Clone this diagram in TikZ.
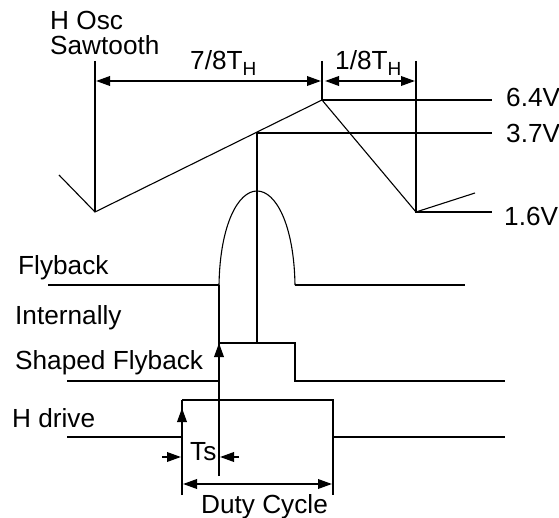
\documentclass[tikz,border=0pt]{standalone}
\usepackage{fontspec}
\setmainfont{Liberation Sans}
\usetikzlibrary{arrows.meta}
\newcommand{\subH}{\raisebox{-6pt}{\fontsize{19}{19}\selectfont H}}
\tikzset{
  wave/.style={line width=1.9pt},
  thinwave/.style={line width=1.1pt},
  dimline/.style={line width=1.9pt,{Triangle[length=14pt,width=9.5pt]}-{Triangle[length=14pt,width=9.5pt]}},
  dimin/.style={line width=1.9pt,-{Triangle[length=14pt,width=9.5pt]}},
  lbl/.style={anchor=base west,inner sep=0pt,font=\fontsize{26.2}{28}\selectfont}
}
\begin{document}
\begin{tikzpicture}[x=1pt,y=-1pt]
\useasboundingbox (0,0) rectangle (559,518);
% sawtooth
\coordinate (sawstart) at (59,175);
\coordinate (sawlow) at (95,212);
\coordinate (sawmid) at (257,133);
\coordinate (sawtop) at (322,100);
\coordinate (sawend) at (416,212);
\coordinate (sawrise) at (475,193);
\draw[thinwave] (sawstart) -- (sawlow) -- (sawtop) -- (sawend) -- (sawrise);
% markers over the sawtooth
\coordinate (markA) at (95,61);
\coordinate (markB) at (322,61);
\coordinate (markC) at (416,61);
\coordinate (levA) at (492,100);
\coordinate (levB) at (492,133);
\coordinate (levC) at (492,212);
\draw[wave] (markA) -- (sawlow);
\draw[wave] (markB) -- (sawtop) -- (levA);
\draw[wave] (markC) -- (sawend) -- (levC);
\draw[wave] (sawmid) -- (levB);
\coordinate (dimA) at (96,81);
\coordinate (dimB) at (321,81);
\coordinate (dimC) at (325,81);
\coordinate (dimD) at (415,81);
\draw[dimline] (dimA) -- (dimB);
\draw[dimline] (dimC) -- (dimD);
% flyback
\coordinate (flyA) at (48,285);
\coordinate (flyB) at (219,285);
\coordinate (flyC) at (257,191);
\coordinate (flyD) at (295,285);
\coordinate (flyE) at (465,285);
\draw[wave] (flyA) -- (flyB);
\draw[thinwave] (flyB) .. controls (220,225) and (238,191) .. (flyC) .. controls (276,191) and (294,225) .. (flyD);
\draw[wave] (flyD) -- (flyE);
% shaped flyback
\coordinate (shapeA) at (67,381);
\coordinate (shapeB) at (219,381);
\coordinate (shapeC) at (219,343);
\coordinate (shapeD) at (295,343);
\coordinate (shapeE) at (295,381);
\coordinate (shapeF) at (505,381);
\coordinate (shapeG) at (257,343);
\coordinate (tsright) at (219,476);
\draw[wave] (shapeA) -- (shapeB);
\draw[wave] (tsright) -- (flyB);
\draw[dimin] (shapeB) -- (shapeC);
\draw[wave] (shapeC) -- (shapeD) -- (shapeE) -- (shapeF);
\draw[wave] (shapeG) -- (sawmid);
% h drive
\coordinate (driveA) at (67,437);
\coordinate (driveB) at (182,437);
\coordinate (driveC) at (182,400);
\coordinate (driveD) at (333,400);
\coordinate (driveE) at (333,437);
\coordinate (driveF) at (505,437);
\coordinate (dutyA) at (182,495);
\coordinate (dutyB) at (333,495);
\coordinate (driveTip) at (182,408);
\draw[wave] (driveA) -- (driveB);
\draw[wave] (driveC) -- (driveD) -- (dutyB);
\draw[wave] (driveE) -- (driveF);
\draw[wave] (dutyA) -- (driveC);
\draw[dimin] (driveB) -- (driveTip);
% ts and duty
\coordinate (tsA) at (162,457);
\coordinate (tsB) at (181,457);
\coordinate (tsC) at (239,457);
\coordinate (tsD) at (220,457);
\coordinate (dutyC) at (183,484);
\coordinate (dutyD) at (332,484);
\draw[dimin] (tsA) -- (tsB);
\draw[dimin] (tsC) -- (tsD);
\draw[dimline] (dutyC) -- (dutyD);
% labels
\node[lbl] (hosc) at (50,30) {H Osc};
\node[lbl] (saw) at (50,55) {Sawtooth};
\node[lbl] (seven) at (190,70) {7/8T\subH};
\node[lbl] (one) at (335,70) {1/8T\subH};
\node[lbl] (six) at (506,107) {6.4V};
\node[lbl] (three) at (506,143) {3.7V};
\node[lbl] (low) at (504,226) {1.6V};
\node[lbl] (fly) at (18,275) {Flyback};
\node[lbl] (intern) at (15,324) {Internally};
\node[lbl] (shaped) at (15,369) {Shaped Flyback};
\node[lbl] (drive) at (12,427) {H drive};
\node[lbl] (ts) at (190,460) {Ts};
\node[lbl] (duty) at (201,513) {Duty Cycle};
\end{tikzpicture}
\end{document}
